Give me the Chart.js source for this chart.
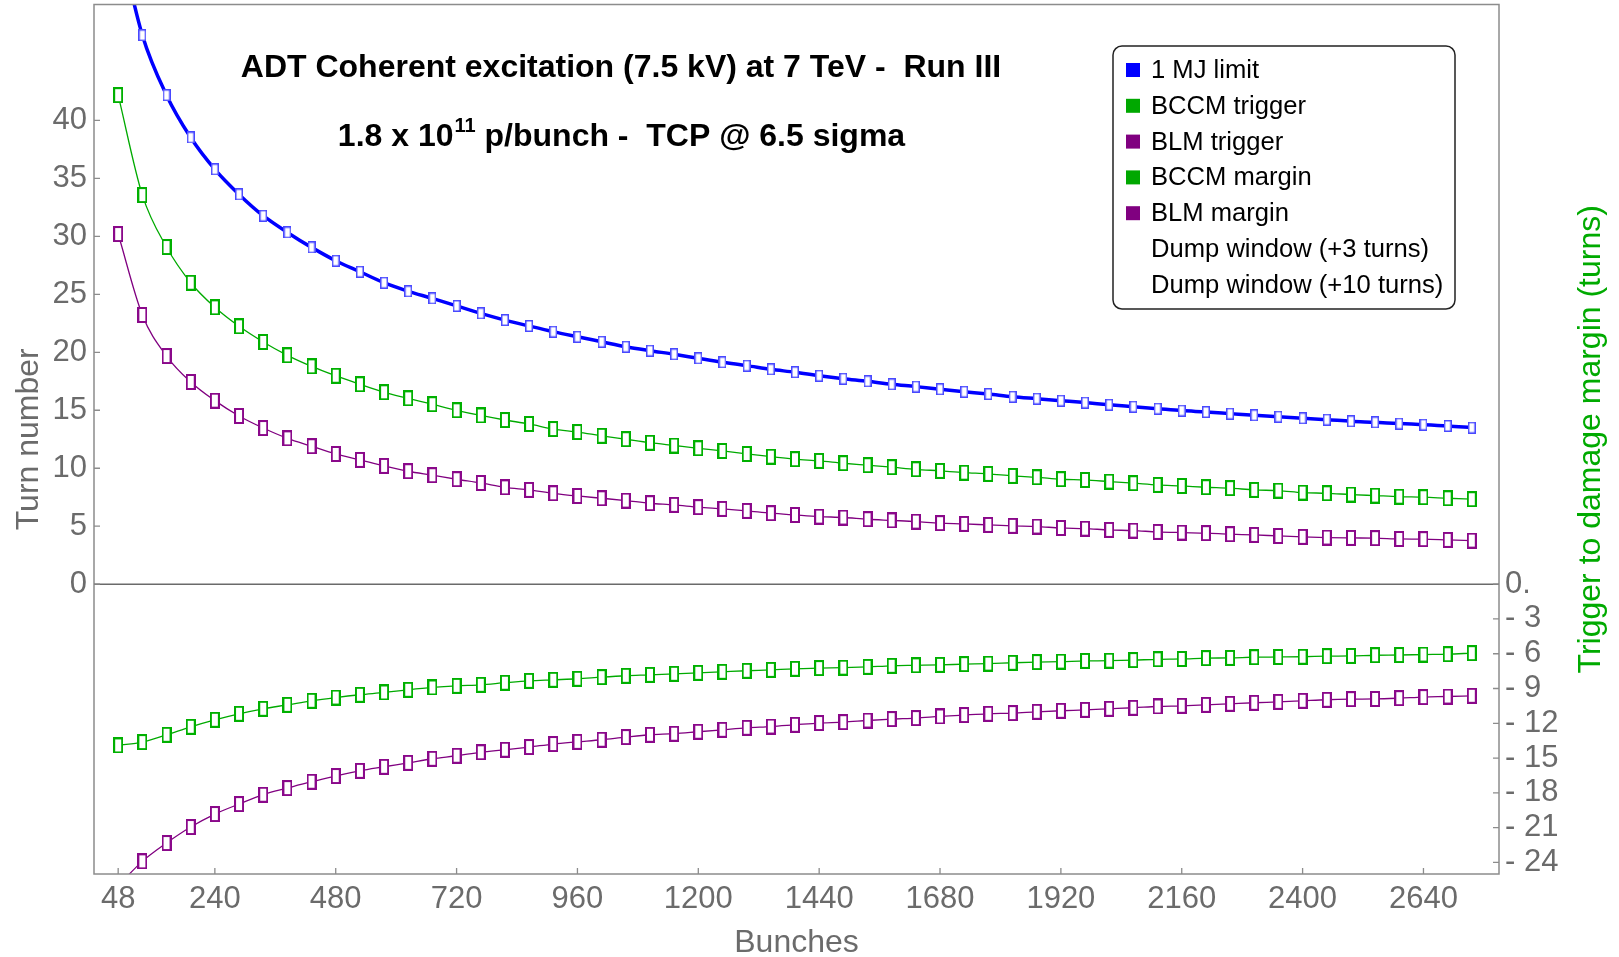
<!DOCTYPE html>
<html>
<head>
<meta charset="utf-8">
<script src="https://cdn.jsdelivr.net/npm/chart.js@4.4.1/dist/chart.umd.min.js"></script>
<style>
html,body{margin:0;padding:0;background:#fff;}
#wrap{width:1619px;height:957px;position:relative;}
</style>
</head>
<body>
<div id="wrap"><canvas id="c"></canvas></div>
<script>
// ---------------- DATA ----------------
const bunches = [48,96,144,192,240,288,336,384,432,480,528,576,624,672,720,768,816,864,912,960,
  1008,1056,1104,1152,1200,1248,1296,1344,1392,1440,1488,1536,1584,1632,1680,1728,1776,1824,1872,1920,
  1968,2016,2064,2112,2160,2208,2256,2304,2352,2400,2448,2496,2544,2592,2640,2688,2736];

const limitTurns = [56.0,47.35,42.18,38.53,35.78,33.62,31.78,30.34,29.05,27.9,26.95,26.0,25.26,24.65,24.0,23.36,22.78,22.27,21.78,21.34,
  20.91,20.48,20.14,19.83,19.48,19.14,18.85,18.53,18.28,17.98,17.72,17.5,17.24,17.04,16.81,16.6,16.4,16.17,16.0,15.83,
  15.66,15.48,15.31,15.14,14.97,14.85,14.71,14.57,14.45,14.31,14.19,14.05,13.96,13.85,13.76,13.65,13.5];

const bccmTrigger = [42.18,33.56,29.08,26.0,23.88,22.24,20.89,19.74,18.79,17.98,17.24,16.55,16.03,15.52,15.0,14.55,14.16,13.82,13.38,13.12,
  12.8,12.5,12.2,11.96,11.72,11.49,11.23,11.0,10.78,10.63,10.43,10.26,10.09,9.91,9.77,9.62,9.51,9.34,9.22,9.05,
  8.99,8.85,8.71,8.56,8.47,8.36,8.28,8.13,8.07,7.9,7.84,7.73,7.64,7.55,7.5,7.41,7.33];

const blmTrigger = [30.2,23.22,19.68,17.44,15.83,14.51,13.47,12.58,11.9,11.23,10.72,10.2,9.74,9.4,9.05,8.73,8.35,8.13,7.84,7.61,
  7.41,7.21,6.98,6.84,6.64,6.49,6.32,6.12,5.97,5.83,5.75,5.6,5.5,5.4,5.26,5.2,5.11,5.03,4.97,4.85,
  4.79,4.68,4.62,4.51,4.45,4.4,4.31,4.25,4.16,4.08,4.02,3.99,3.97,3.9,3.88,3.82,3.76];

const bccmMargin = [-13.91,-13.62,-12.99,-12.3,-11.7,-11.18,-10.75,-10.41,-10.06,-9.78,-9.54,-9.34,-9.11,-8.91,-8.77,-8.68,-8.5,-8.34,-8.25,-8.16,
  -8.02,-7.9,-7.82,-7.73,-7.65,-7.56,-7.47,-7.39,-7.3,-7.24,-7.2,-7.13,-7.04,-7.0,-6.96,-6.9,-6.85,-6.78,-6.72,-6.68,
  -6.62,-6.6,-6.55,-6.48,-6.45,-6.38,-6.36,-6.3,-6.28,-6.26,-6.21,-6.19,-6.13,-6.11,-6.07,-6.04,-5.95];

const blmMargin = [-26.0,-23.91,-22.33,-20.95,-19.83,-18.97,-18.16,-17.59,-17.04,-16.55,-16.1,-15.75,-15.41,-15.06,-14.8,-14.5,-14.28,-14.05,-13.79,-13.6,
  -13.42,-13.19,-12.99,-12.9,-12.73,-12.56,-12.39,-12.28,-12.13,-11.98,-11.9,-11.76,-11.64,-11.55,-11.41,-11.29,-11.18,-11.12,-11.01,-10.92,
  -10.84,-10.75,-10.66,-10.55,-10.49,-10.41,-10.32,-10.23,-10.15,-10.06,-9.97,-9.92,-9.9,-9.83,-9.74,-9.69,-9.63];

const seriesLabels = ['1 MJ limit','BCCM trigger','BLM trigger','BCCM margin','BLM margin','Dump window (+3 turns)','Dump window (+10 turns)'];

const xTicks = [48,240,480,720,960,1200,1440,1680,1920,2160,2400,2640];
const leftTicks = [0,5,10,15,20,25,30,35,40];
const rightTicks = [0,-3,-6,-9,-12,-15,-18,-21,-24];
const rightTickLabels = ['0.','- 3','- 6','- 9','- 12','- 15','- 18','- 21','- 24'];

const titleLine1 = 'ADT Coherent excitation (7.5 kV) at 7 TeV -  Run III';
const titleLine2a = '1.8 x 10';
const titleLine2sup = '11';
const titleLine2b = ' p/bunch -  TCP @ 6.5 sigma';
const xTitle = 'Bunches';
const yTitle = 'Turn number';
const y2Title = 'Trigger to damage margin (turns)';

// ---------------- STYLE ----------------
const BLUE = '#0000ff', GREEN = '#00aa00', PURPLE = '#800080';
const GREY = '#6b6b6b';
const FONT = '"Liberation Sans", Arial, sans-serif';

function rectMarker(w, h, stroke, lw) {
  const c = document.createElement('canvas');
  c.width = w; c.height = h;
  const g = c.getContext('2d');
  g.fillStyle = '#fff';
  g.fillRect(0, 0, w, h);
  g.strokeStyle = stroke; g.lineWidth = lw;
  g.strokeRect(lw / 2, lw / 2, w - lw, h - lw);
  return c;
}
const blueMarker = rectMarker(8, 12, '#4848ff', 1.5);
const greenMarker = rectMarker(10, 16, '#00b000', 2);
const purpleMarker = rectMarker(10, 16, '#8a088a', 2);

const toXY = arr => bunches.map((b, i) => ({x: b, y: arr[i]}));

const legendSwatch = [BLUE, '#00a800', PURPLE, '#00a800', PURPLE, null, null];

const decoPlugin = {
  id: 'deco',
  afterDraw(chart) {
    const {ctx, chartArea: a, scales} = chart;
    ctx.save();
    // frame
    ctx.strokeStyle = '#8c8c8c'; ctx.lineWidth = 1.5;
    ctx.strokeRect(a.left, a.top, a.right - a.left, a.bottom - a.top);
    // zero line
    const y0 = scales.y.getPixelForValue(0);
    ctx.strokeStyle = '#6a6a6a'; ctx.lineWidth = 1.5;
    ctx.beginPath(); ctx.moveTo(a.left, y0); ctx.lineTo(a.right, y0); ctx.stroke();
    // inward tick marks
    ctx.strokeStyle = '#8c8c8c'; ctx.lineWidth = 1.3;
    ctx.beginPath();
    xTicks.forEach(v => { const x = scales.x.getPixelForValue(v); ctx.moveTo(x, a.bottom); ctx.lineTo(x, a.bottom - 6); });
    leftTicks.forEach(v => { const y = scales.y.getPixelForValue(v); ctx.moveTo(a.left, y); ctx.lineTo(a.left + 6, y); });
    rightTicks.forEach(v => { const y = scales.y2.getPixelForValue(v); ctx.moveTo(a.right, y); ctx.lineTo(a.right - 6, y); });
    ctx.stroke();

    // right axis title (reads bottom-to-top)
    ctx.save();
    ctx.translate(1591, (a.top + a.bottom) / 2);
    ctx.rotate(-Math.PI / 2);
    ctx.font = '32px ' + FONT;
    ctx.fillStyle = GREEN;
    ctx.textAlign = 'center'; ctx.textBaseline = 'middle';
    ctx.fillText(y2Title, 0, 0);
    ctx.restore();

    // plot title (two lines)
    const cx = 621;
    ctx.fillStyle = '#000';
    ctx.textBaseline = 'alphabetic';
    const bigF = 'bold 32px ' + FONT, supF = 'bold 20px ' + FONT;
    ctx.font = bigF;
    ctx.textAlign = 'center';
    ctx.fillText(titleLine1, cx, 77);
    ctx.textAlign = 'left';
    ctx.font = bigF; const w1 = ctx.measureText(titleLine2a).width; const w3 = ctx.measureText(titleLine2b).width;
    ctx.font = supF; const w2 = ctx.measureText(titleLine2sup).width;
    let sx = cx - (w1 + w2 + w3) / 2;
    ctx.font = bigF; ctx.fillText(titleLine2a, sx, 146); sx += w1;
    ctx.font = supF; ctx.fillText(titleLine2sup, sx + 1, 132); sx += w2 + 1;
    ctx.font = bigF; ctx.fillText(titleLine2b, sx, 146);

    // legend box
    const bx = 1113, by = 46, bw = 342, bh = 263, r = 9;
    ctx.beginPath();
    ctx.moveTo(bx + r, by); ctx.lineTo(bx + bw - r, by); ctx.arcTo(bx + bw, by, bx + bw, by + r, r);
    ctx.lineTo(bx + bw, by + bh - r); ctx.arcTo(bx + bw, by + bh, bx + bw - r, by + bh, r);
    ctx.lineTo(bx + r, by + bh); ctx.arcTo(bx, by + bh, bx, by + bh - r, r);
    ctx.lineTo(bx, by + r); ctx.arcTo(bx, by, bx + r, by, r); ctx.closePath();
    ctx.fillStyle = '#fff'; ctx.fill();
    ctx.strokeStyle = '#222'; ctx.lineWidth = 1.5; ctx.stroke();
    ctx.font = '25.6px ' + FONT;
    ctx.textAlign = 'left'; ctx.textBaseline = 'middle';
    chart.data.datasets.forEach((ds, i) => {
      const y = 71 + i * 35.8;
      if (legendSwatch[i]) { ctx.fillStyle = legendSwatch[i]; ctx.fillRect(1126, y - 8, 14, 14); }
      ctx.fillStyle = '#000';
      ctx.fillText(ds.label, 1151, y);
    });
    ctx.restore();
  }
};

const lineBase = {cubicInterpolationMode: 'monotone', clip: 0, pointRadius: 6, pointHoverRadius: 6};

new Chart(document.getElementById('c'), {
  type: 'line',
  data: {
    datasets: [
      Object.assign({}, lineBase, {label: seriesLabels[0], data: toXY(limitTurns), yAxisID: 'y', borderColor: BLUE, borderWidth: 3.5, pointStyle: blueMarker, order: 1}),
      Object.assign({}, lineBase, {label: seriesLabels[1], data: toXY(bccmTrigger), yAxisID: 'y', borderColor: GREEN, borderWidth: 1.3, pointStyle: greenMarker, order: 2}),
      Object.assign({}, lineBase, {label: seriesLabels[2], data: toXY(blmTrigger), yAxisID: 'y', borderColor: PURPLE, borderWidth: 1.3, pointStyle: purpleMarker, order: 3}),
      Object.assign({}, lineBase, {label: seriesLabels[3], data: toXY(bccmMargin), yAxisID: 'y2', borderColor: GREEN, borderWidth: 1.3, pointStyle: greenMarker, order: 4}),
      Object.assign({}, lineBase, {label: seriesLabels[4], data: toXY(blmMargin), yAxisID: 'y2', borderColor: PURPLE, borderWidth: 1.3, pointStyle: purpleMarker, order: 5}),
      {label: seriesLabels[5], data: [], yAxisID: 'y', borderColor: 'rgba(0,0,0,0)', pointRadius: 0, showLine: false},
      {label: seriesLabels[6], data: [], yAxisID: 'y', borderColor: 'rgba(0,0,0,0)', pointRadius: 0, showLine: false}
    ]
  },
  options: {
    responsive: true,
    maintainAspectRatio: false,
    animation: false,
    events: [],
    layout: {autoPadding: false, padding: {top: 4.5, left: 0, right: 0, bottom: 0}},
    plugins: {legend: {display: false}, tooltip: {enabled: false}, title: {display: false}},
    scales: {
      x: {
        type: 'linear', position: 'bottom', min: 0, max: 2790,
        afterBuildTicks: s => { s.ticks = xTicks.map(v => ({value: v})); },
        afterFit: s => { s.height = 83; s.paddingLeft = 0; s.paddingRight = 0; },
        grid: {display: false, drawTicks: false},
        border: {display: false},
        ticks: {autoSkip: false, maxRotation: 0, minRotation: 0, padding: 7, color: GREY, font: {family: FONT, size: 31}, callback: v => String(v)},
        title: {display: true, text: xTitle, color: GREY, font: {family: FONT, size: 32}, padding: {top: 0, bottom: -5}}
      },
      y: {
        type: 'linear', position: 'left', min: -25, max: 50,
        afterBuildTicks: s => { s.ticks = leftTicks.map(v => ({value: v})); },
        afterFit: s => { s.width = 94; s.paddingTop = 0; s.paddingBottom = 0; },
        grid: {display: false, drawTicks: false},
        border: {display: false},
        ticks: {padding: 7, color: GREY, font: {family: FONT, size: 31}, callback: v => String(v)},
        title: {display: true, text: yTitle, color: GREY, font: {family: FONT, size: 32}, padding: {top: 10, bottom: 0}}
      },
      y2: {
        type: 'linear', position: 'right', min: -25, max: 50,
        afterBuildTicks: s => { s.ticks = rightTicks.map(v => ({value: v})); },
        afterFit: s => { s.width = 120; s.paddingTop = 0; s.paddingBottom = 0; },
        grid: {display: false, drawTicks: false},
        border: {display: false},
        ticks: {padding: 6, color: GREY, font: {family: FONT, size: 31}, callback: v => rightTickLabels[rightTicks.indexOf(v)]}
      }
    }
  },
  plugins: [decoPlugin]
});
</script>
</body>
</html>
